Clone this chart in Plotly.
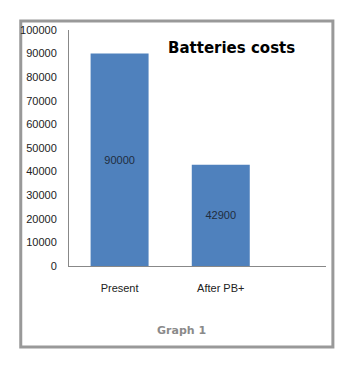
import plotly.graph_objects as go

categories = ["Present", "After PB+"]
values = [90000, 42900]
tick_vals = [0, 10000, 20000, 30000, 40000, 50000, 60000, 70000, 80000, 90000, 100000]

OFF = 8  # page body margin
W, H = 360 - OFF, 365 - OFF
L, R, T, B = 65 - OFF, 34, 30 - OFF, 99
pw, ph = W - L - R, H - T - B

def px(x):
    return (x - OFF - L) / pw

def py(y):
    return (H - B - (y - OFF)) / ph

fig = go.Figure(go.Bar(
    x=categories, y=values,
    marker=dict(color="#4f81bd", line=dict(width=0)),
    width=0.573,
    text=[str(v) for v in values],
    textposition="inside", insidetextanchor="middle",
    textfont=dict(family="Liberation Sans", size=11, color="#1f2d3d"),
))

fig.update_layout(
    width=W, height=H,
    margin=dict(l=L, r=R, t=T, b=B),
    paper_bgcolor="white", plot_bgcolor="white",
    showlegend=False,
    font=dict(family="Liberation Sans", size=11, color="#222"),
    xaxis=dict(type="category", range=[-0.5, 2.04], showgrid=False,
               showline=True, linecolor="#888", linewidth=1, ticks="",
               tickfont=dict(size=11, color="#222"), ticklabelstandoff=12),
    yaxis=dict(range=[0, 100000], tickvals=tick_vals,
               ticktext=[str(v) for v in tick_vals], showgrid=False,
               showline=True, linecolor="#888", linewidth=1, ticks="",
               zeroline=False, tickfont=dict(size=11, color="#222"),
               ticklabelstandoff=9),
    shapes=[dict(type="rect", xref="paper", yref="paper",
                 x0=px(16), x1=px(333), y0=py(21), y1=py(347),
                 line=dict(color="#999999", width=3), layer="below")],
    annotations=[
        dict(text="<b>Batteries costs</b>", xref="paper", yref="paper",
             x=px(230), y=py(48), xanchor="center", yanchor="middle",
             showarrow=False, font=dict(family="DejaVu Sans", size=15, color="black")),
        dict(text="<b>Graph 1</b>", xref="paper", yref="paper",
             x=px(179), y=py(330), xanchor="center", yanchor="middle",
             showarrow=False, font=dict(family="DejaVu Sans", size=11, color="#8a8a8a")),
    ],
)

fig.write_html("out.html")
